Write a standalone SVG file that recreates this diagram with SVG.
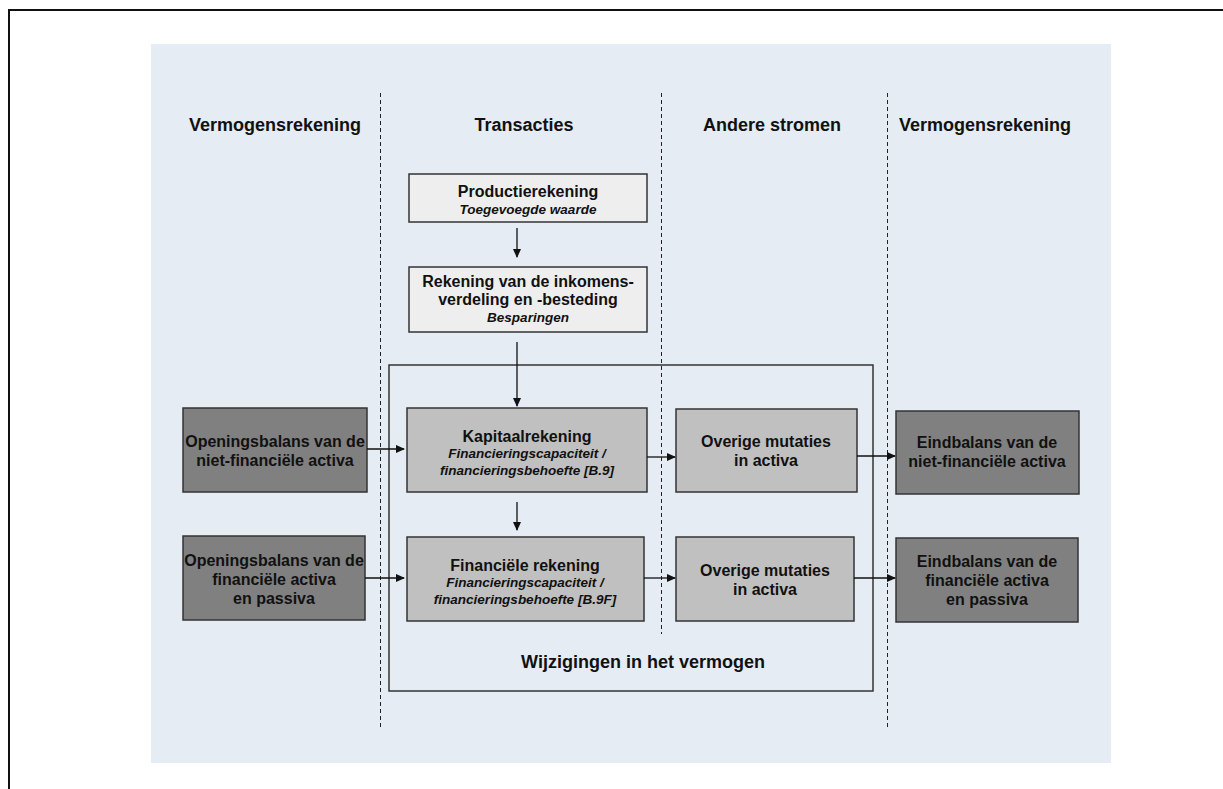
<svg xmlns="http://www.w3.org/2000/svg" width="1223" height="789" viewBox="0 0 1223 789">
<style>
text{font-family:"Liberation Sans",Arial,sans-serif;font-weight:bold;fill:#111;text-anchor:middle}
.h{font-size:18px}
.t{font-size:16px}
.i{font-size:13.5px;font-style:italic}
.light{fill:#eeeeee;stroke:#333;stroke-width:1.5}
.mid{fill:#c0c0c0;stroke:#333;stroke-width:1.5}
.dark{fill:#808080;stroke:#333;stroke-width:1.5}
.dash{stroke:#222;stroke-width:1;stroke-dasharray:4 3;fill:none}
.conn{stroke:#111;stroke-width:1.3;fill:none;marker-end:url(#ah)}
</style>
<defs>
<marker id="ah" markerWidth="9" markerHeight="8" refX="8" refY="4" orient="auto" markerUnits="userSpaceOnUse">
<path d="M0,0 L9,4 L0,8 Z" fill="#111"/>
</marker>
</defs>
<rect x="0" y="0" width="1223" height="789" fill="#fff"/>
<path d="M9,789 L9,10 L1223,10" fill="none" stroke="#111" stroke-width="2"/>
<rect x="151" y="44" width="960" height="719" fill="#e5ecf4"/>
<g id="dividers">
<line class="dash" x1="380.5" y1="93" x2="380.5" y2="727"/>
<line class="dash" x1="661.5" y1="93" x2="661.5" y2="634"/>
<line class="dash" x1="887.5" y1="93" x2="887.5" y2="727"/>
</g>
<g id="headers">
<text class="h" x="275" y="131">Vermogensrekening</text>
<text class="h" x="524" y="131">Transacties</text>
<text class="h" x="772" y="131">Andere stromen</text>
<text class="h" x="985" y="131">Vermogensrekening</text>
</g>
<g id="wijzigingen">
<rect x="389" y="365" width="484" height="326" fill="none" stroke="#333" stroke-width="1.5"/>
<text class="h" x="643" y="668">Wijzigingen in het vermogen</text>
</g>
<g id="productierekening">
<rect class="light" x="409" y="174" width="238" height="48"/>
<text class="t" x="528" y="197">Productierekening</text>
<text class="i" x="528" y="214">Toegevoegde waarde</text>
</g>
<g id="inkomensrekening">
<rect class="light" x="409" y="267" width="238" height="65"/>
<text class="t" x="528" y="287">Rekening van de inkomens-</text>
<text class="t" x="528" y="305">verdeling en -besteding</text>
<text class="i" x="528" y="322">Besparingen</text>
</g>
<g id="kapitaalrekening">
<rect class="mid" x="407" y="408" width="240" height="84"/>
<text class="t" x="527" y="442">Kapitaalrekening</text>
<text class="i" x="527" y="458">Financieringscapaciteit /</text>
<text class="i" x="527" y="475">financieringsbehoefte [B.9]</text>
</g>
<g id="financiele-rekening">
<rect class="mid" x="407" y="537" width="237" height="84"/>
<text class="t" x="525" y="571">Financiële rekening</text>
<text class="i" x="525" y="587">Financieringscapaciteit /</text>
<text class="i" x="525" y="604">financieringsbehoefte [B.9F]</text>
</g>
<g id="overige-1">
<rect class="mid" x="676" y="409" width="181" height="83"/>
<text class="t" x="766" y="447">Overige mutaties</text>
<text class="t" x="766" y="466">in activa</text>
</g>
<g id="overige-2">
<rect class="mid" x="676" y="537" width="178" height="84"/>
<text class="t" x="765" y="576">Overige mutaties</text>
<text class="t" x="765" y="595">in activa</text>
</g>
<g id="openingsbalans-1">
<rect class="dark" x="183" y="408" width="184" height="84"/>
<text class="t" x="275" y="447">Openingsbalans van de</text>
<text class="t" x="275" y="466">niet-financiële activa</text>
</g>
<g id="openingsbalans-2">
<rect class="dark" x="183" y="536" width="182" height="84"/>
<text class="t" x="274" y="566">Openingsbalans van de</text>
<text class="t" x="274" y="585">financiële activa</text>
<text class="t" x="274" y="604">en passiva</text>
</g>
<g id="eindbalans-1">
<rect class="dark" x="896" y="411" width="183" height="83"/>
<text class="t" x="987" y="448">Eindbalans van de</text>
<text class="t" x="987" y="467">niet-financiële activa</text>
</g>
<g id="eindbalans-2">
<rect class="dark" x="896" y="538" width="182" height="84"/>
<text class="t" x="987" y="567">Eindbalans van de</text>
<text class="t" x="987" y="586">financiële activa</text>
<text class="t" x="987" y="605">en passiva</text>
</g>
<g id="connectors">
<line class="conn" x1="517" y1="228" x2="517" y2="257"/>
<line class="conn" x1="517" y1="342" x2="517" y2="406"/>
<line class="conn" x1="517" y1="502" x2="517" y2="530"/>
<line class="conn" x1="367" y1="449" x2="404" y2="449"/>
<line class="conn" x1="365" y1="578" x2="404" y2="578"/>
<line class="conn" x1="647" y1="457" x2="675" y2="457"/>
<line class="conn" x1="644" y1="578" x2="675" y2="578"/>
<line class="conn" x1="857" y1="456" x2="895" y2="456"/>
<line class="conn" x1="854" y1="578" x2="895" y2="578"/>
</g>
</svg>
